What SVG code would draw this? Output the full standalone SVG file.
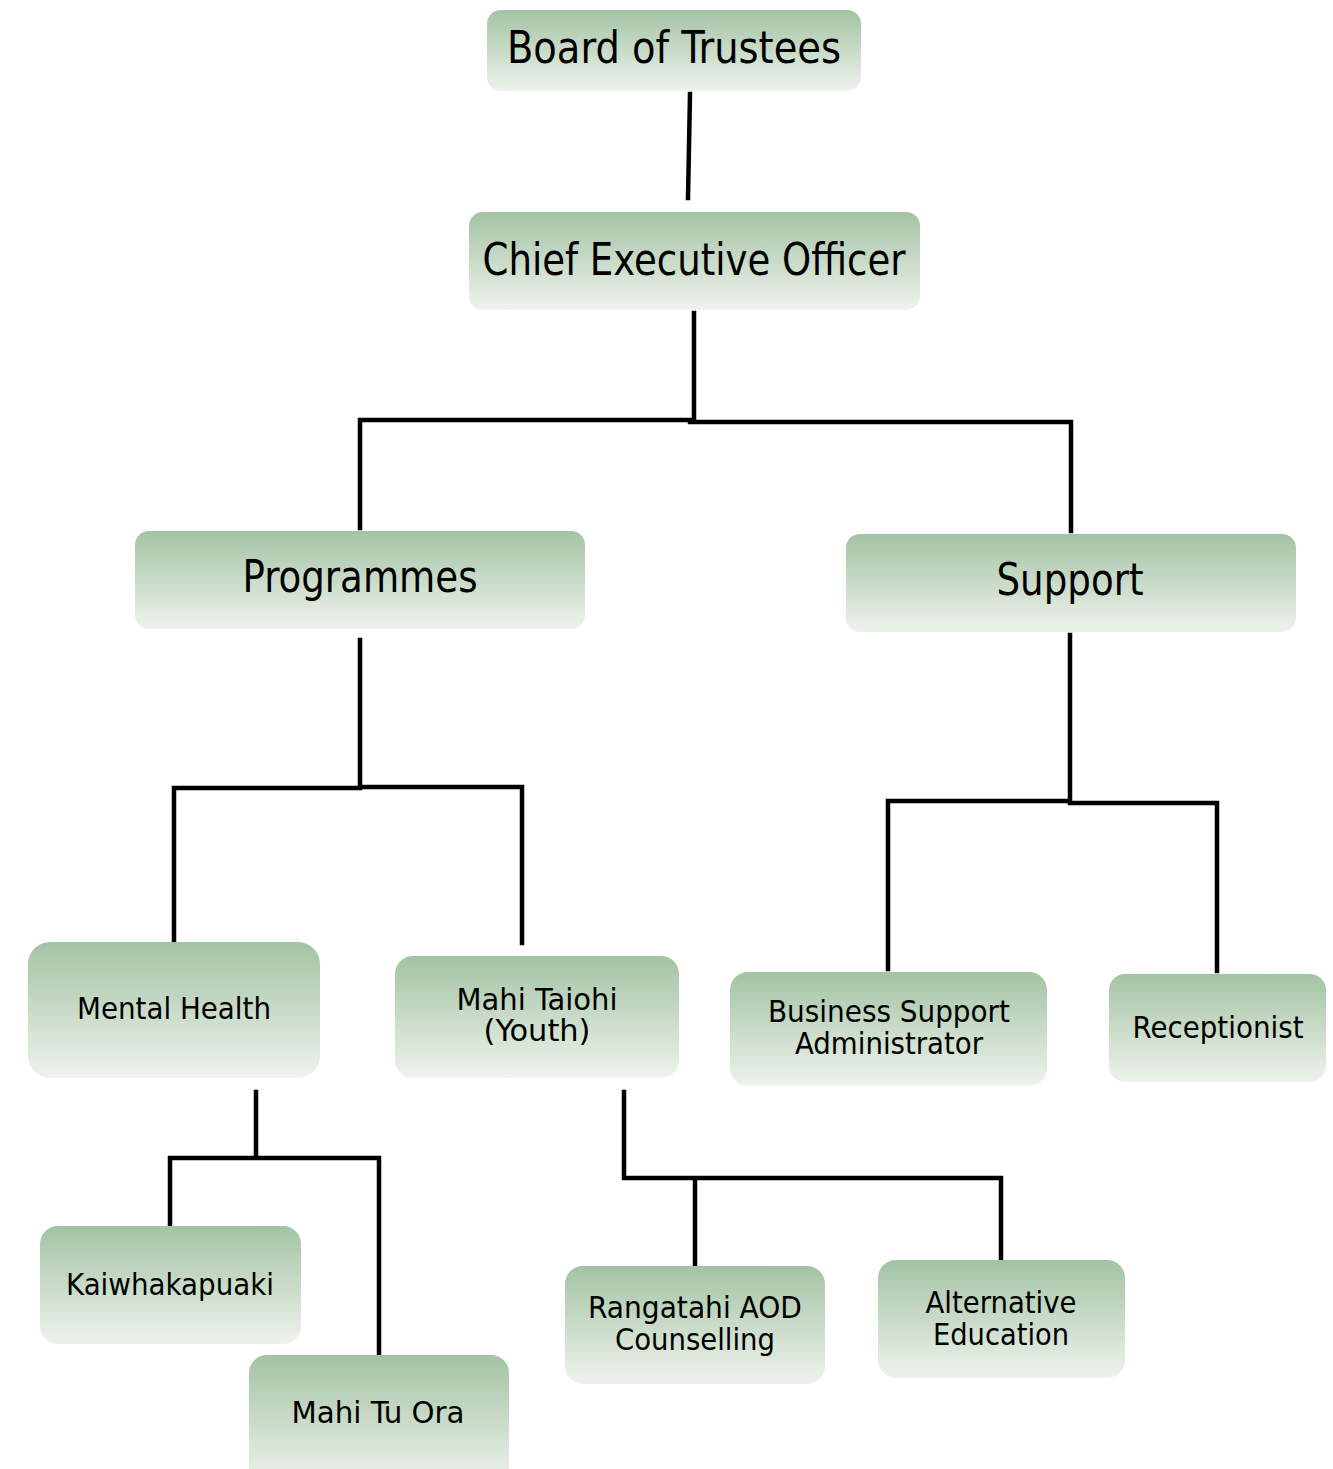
<svg xmlns="http://www.w3.org/2000/svg" width="1333" height="1469" viewBox="0 0 1333 1469">
<defs>
<linearGradient id="g" x1="0" y1="0" x2="0" y2="1">
<stop offset="0" stop-color="#a3c3a3"/>
<stop offset="0.5" stop-color="#c9dbc8"/>
<stop offset="1" stop-color="#eef3ed"/>
</linearGradient>
</defs>
<style>
.box{fill:url(#g);}
text{font-family:"DejaVu Sans Condensed","DejaVu Sans",Tahoma,sans-serif;fill:#000;text-anchor:middle;}
.big{font-size:44px;}
.sm{font-size:30px;}
.con{fill:none;stroke:#000;stroke-width:4.5;stroke-linecap:square;stroke-linejoin:miter;}
</style>
<rect width="1333" height="1469" fill="#fff"/>
<g id="connectors">
<path class="con" d="M690,94 L688,198"/>
<path class="con" d="M694,313 L694,420 M360,528 L360,420 L692,420 M690,422 L1071,422 L1071,531"/>
<path class="con" d="M360,640 L360,788 M174,940 L174,788 L360,788 M360,787 L522,787 L522,943"/>
<path class="con" d="M1070,635 L1070,802 M888,969 L888,801 L1070,801 M1070,803 L1217,803 L1217,971"/>
<path class="con" d="M256,1092 L256,1157 M170,1224 L170,1158 L256,1158 M256,1158 L379,1158 L379,1353"/>
<path class="con" d="M624,1092 L624,1178 L1001,1178 L1001,1258 M695,1178 L695,1264"/>
</g>
<g id="board"><rect class="box" x="487" y="10" width="374" height="81" rx="14"/><text class="big" x="674" y="63" textLength="334" lengthAdjust="spacingAndGlyphs">Board of Trustees</text></g>
<g id="ceo"><rect class="box" x="469" y="212" width="451" height="98" rx="14"/><text class="big" x="694" y="275" textLength="423" lengthAdjust="spacingAndGlyphs">Chief Executive Officer</text></g>
<g id="programmes"><rect class="box" x="135" y="531" width="450" height="98" rx="14"/><text class="big" x="360" y="592" textLength="235" lengthAdjust="spacingAndGlyphs">Programmes</text></g>
<g id="support"><rect class="box" x="846" y="534" width="450" height="98" rx="14"/><text class="big" x="1070" y="595" textLength="147" lengthAdjust="spacingAndGlyphs">Support</text></g>
<g id="mental-health"><rect class="box" x="28" y="942" width="292" height="136" rx="22"/><text class="sm" x="174" y="1019" textLength="194" lengthAdjust="spacingAndGlyphs">Mental Health</text></g>
<g id="mahi-taiohi"><rect class="box" x="395" y="956" width="284" height="122" rx="18"/><text class="sm" x="537" y="1010" textLength="161" lengthAdjust="spacingAndGlyphs">Mahi Taiohi</text><text class="sm" x="537" y="1041" textLength="107" lengthAdjust="spacingAndGlyphs">(Youth)</text></g>
<g id="business-support"><rect class="box" x="730" y="972" width="317" height="114" rx="18"/><text class="sm" x="889" y="1022" textLength="242" lengthAdjust="spacingAndGlyphs">Business Support</text><text class="sm" x="889" y="1054" textLength="188" lengthAdjust="spacingAndGlyphs">Administrator</text></g>
<g id="receptionist"><rect class="box" x="1109" y="974" width="217" height="108" rx="16"/><text class="sm" x="1218" y="1038" textLength="171" lengthAdjust="spacingAndGlyphs">Receptionist</text></g>
<g id="kaiwhakapuaki"><rect class="box" x="40" y="1226" width="261" height="118" rx="18"/><text class="sm" x="170" y="1295" textLength="208" lengthAdjust="spacingAndGlyphs">Kaiwhakapuaki</text></g>
<g id="mahi-tu-ora"><rect class="box" x="249" y="1355" width="260" height="130" rx="18"/><text class="sm" x="378" y="1423" textLength="173" lengthAdjust="spacingAndGlyphs">Mahi Tu Ora</text></g>
<g id="rangatahi"><rect class="box" x="565" y="1266" width="260" height="118" rx="18"/><text class="sm" x="695" y="1318" textLength="214" lengthAdjust="spacingAndGlyphs">Rangatahi AOD</text><text class="sm" x="695" y="1350" textLength="160" lengthAdjust="spacingAndGlyphs">Counselling</text></g>
<g id="alternative-education"><rect class="box" x="878" y="1260" width="247" height="118" rx="18"/><text class="sm" x="1001" y="1313" textLength="151" lengthAdjust="spacingAndGlyphs">Alternative</text><text class="sm" x="1001" y="1345" textLength="136" lengthAdjust="spacingAndGlyphs">Education</text></g>
</svg>
